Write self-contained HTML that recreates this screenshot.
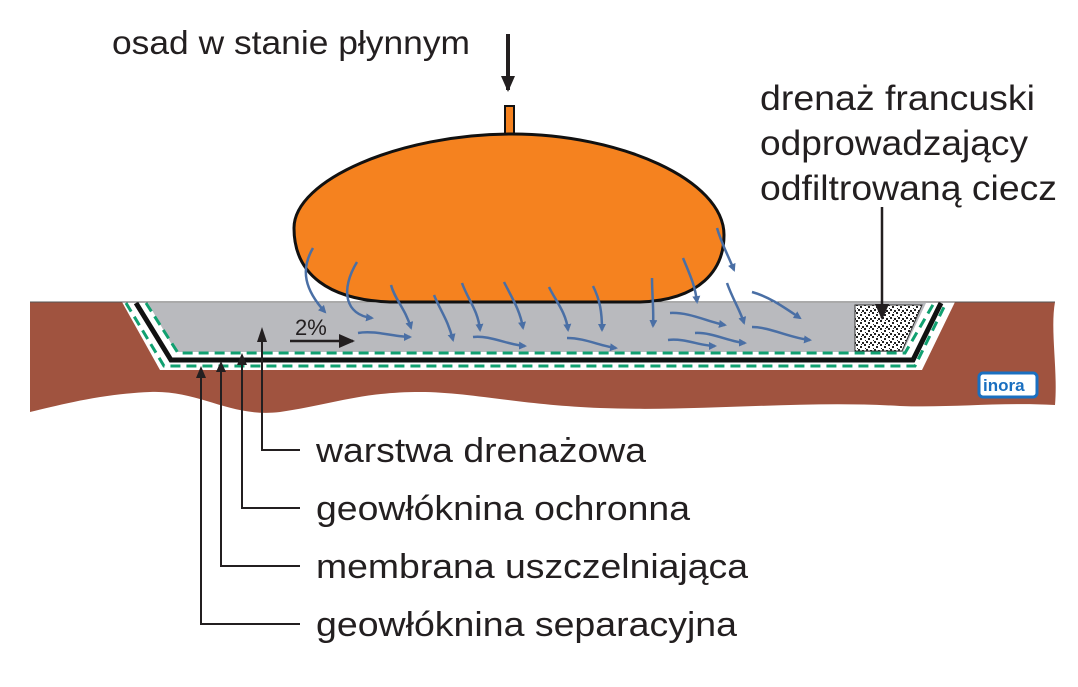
<!DOCTYPE html>
<html><head><meta charset="utf-8"><style>
body{margin:0;background:#fff;}
svg{display:block;}
text{font-family:"Liberation Sans",sans-serif;fill:#231f20;}
</style></head><body>
<svg width="1078" height="687" viewBox="0 0 1078 687" xmlns="http://www.w3.org/2000/svg">
<defs>
<marker id="ab" markerWidth="8" markerHeight="8" refX="6" refY="4" orient="auto" markerUnits="userSpaceOnUse"><path d="M0,0 L8,4 L0,8 Z" fill="#4a6fa5"/></marker>
<marker id="ak" markerWidth="16" markerHeight="14" refX="14" refY="7" orient="auto" markerUnits="userSpaceOnUse"><path d="M0,0 L16,7 L0,14 Z" fill="#231f20"/></marker>
<pattern id="noise" width="8" height="8" patternUnits="userSpaceOnUse"><rect width="8" height="8" fill="#fff"/><rect x="0" y="0" width="2" height="2" fill="#222"/><rect x="4" y="2" width="2" height="2" fill="#222"/><rect x="2" y="5" width="2" height="2" fill="#222"/><rect x="6" y="6" width="2" height="2" fill="#222"/><rect x="5" y="0" width="1" height="1" fill="#222"/><rect x="1" y="4" width="1" height="1" fill="#222"/></pattern>
</defs>
<path d="M30,302 L1055,302 C1050,330 1058,370 1055,405 C1000,402 950,408 900,406 C800,400 700,412 600,408 C520,405 470,392 420,392 C360,392 330,405 280,412 C230,418 200,390 150,392 C100,394 60,405 30,412 Z" fill="#a0533f"/>
<path d="M122,302 L955,302 L922,370 L160,370 Z" fill="#fff"/>
<path d="M148,303 L926,303 L903,352 L176,352 Z" fill="#b9babe"/>
<path d="M126,303 L164,366 L915,366 L946,303" fill="none" stroke="#10a070" stroke-width="3" stroke-dasharray="10,6"/>
<path d="M136,303 L171,360 L913,360 L941,303" fill="none" stroke="#111" stroke-width="5"/>
<path d="M146,303 L178,353 L905,353 L934,303" fill="none" stroke="#10a070" stroke-width="3" stroke-dasharray="10,6"/>
<line x1="30" y1="302" x2="1055" y2="302" stroke="#555" stroke-width="1"/>
<path d="M855,305 L922,305 L902,351 L855,351 Z" fill="url(#noise)" stroke="#333" stroke-width="1"/>
<rect x="505" y="106" width="9" height="30" fill="#f5821f" stroke="#111" stroke-width="2"/>
<path d="M512,134 C400,134 294,180 294,228 C294,275 330,300 390,302 L640,302 C700,300 724,270 724,235 C724,180 620,134 512,134 Z" fill="#f5821f" stroke="#111" stroke-width="3"/>
<g fill="none" stroke="#4a6fa5" stroke-width="2.5" marker-end="url(#ab)">
<path d="M313,248 C300,270 305,290 325,312"/>
<path d="M357,262 C340,290 345,315 372,318"/>
<path d="M391,285 C395,300 405,308 411,328"/>
<path d="M434,295 C440,310 448,320 453,340"/>
<path d="M462,283 C468,300 478,310 480,330"/>
<path d="M504,282 C512,298 520,310 523,328"/>
<path d="M549,287 C555,300 566,312 568,330"/>
<path d="M593,286 C600,300 602,312 602,330"/>
<path d="M652,278 C652,295 654,310 653,326"/>
<path d="M683,258 C690,275 695,285 697,302"/>
<path d="M717,228 C722,245 728,255 734,270"/>
<path d="M727,283 C733,300 740,310 744,323"/>
<path d="M358,333 C375,330 395,337 410,337"/>
<path d="M473,337 C490,335 508,345 525,346"/>
<path d="M567,338 C585,338 600,346 616,348"/>
<path d="M668,340 C685,338 700,346 715,346"/>
<path d="M670,313 C690,312 708,322 725,325"/>
<path d="M695,333 C712,332 730,342 745,343"/>
<path d="M752,292 C770,297 785,308 800,318"/>
<path d="M752,327 C770,327 790,338 810,340"/>
</g>
<text x="295" y="335" font-size="22">2%</text>
<line x1="290" y1="341" x2="353" y2="341" stroke="#231f20" stroke-width="2.5" marker-end="url(#ak)"/>
<g fill="none" stroke="#231f20" stroke-width="2">
<path d="M300,450 L262,450 L262,340"/>
<path d="M300,508 L242,508 L242,358"/>
<path d="M300,566 L221,566 L221,364"/>
<path d="M300,624 L201,624 L201,370"/>
</g>
<g fill="#231f20">
<path d="M262,327 L257,342 L267,342 Z"/>
<path d="M242,353 L237,365 L247,365 Z"/>
<path d="M221,361 L216,372 L226,372 Z"/>
<path d="M201,366 L196,378 L206,378 Z"/>
</g>
<line x1="508" y1="34" x2="508" y2="90" stroke="#231f20" stroke-width="4" marker-end="url(#ak)"/>
<line x1="882" y1="207" x2="882" y2="318" stroke="#231f20" stroke-width="2.5" marker-end="url(#ak)"/>
<text x="112" y="54" font-size="33" textLength="358" lengthAdjust="spacingAndGlyphs">osad w stanie płynnym</text>
<text x="760" y="110" font-size="35" textLength="275" lengthAdjust="spacingAndGlyphs">drenaż francuski</text>
<text x="760" y="155" font-size="35" textLength="268" lengthAdjust="spacingAndGlyphs">odprowadzający</text>
<text x="760" y="200" font-size="35" textLength="297" lengthAdjust="spacingAndGlyphs">odfiltrowaną ciecz</text>
<text x="316" y="462" font-size="34" textLength="330" lengthAdjust="spacingAndGlyphs">warstwa drenażowa</text>
<text x="316" y="520" font-size="34" textLength="374" lengthAdjust="spacingAndGlyphs">geowłóknina ochronna</text>
<text x="316" y="578" font-size="34" textLength="432" lengthAdjust="spacingAndGlyphs">membrana uszczelniająca</text>
<text x="316" y="636" font-size="34" textLength="421" lengthAdjust="spacingAndGlyphs">geowłóknina separacyjna</text>
<rect x="979" y="373" width="58" height="24" rx="4" fill="#fff" stroke="#1a6fc0" stroke-width="3"/>
<text x="983" y="391" font-size="17" font-weight="bold" style="fill:#1a6fc0">inora</text>
</svg>
</body></html>
